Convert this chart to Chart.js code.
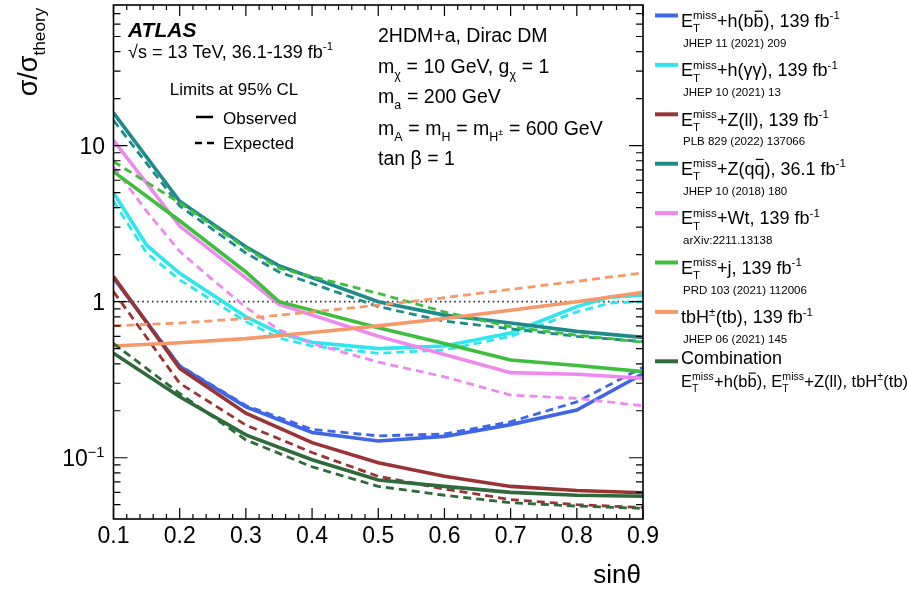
<!DOCTYPE html>
<html>
<head>
<meta charset="utf-8">
<script src="https://cdn.jsdelivr.net/npm/chart.js@4.4.1/dist/chart.umd.min.js"></script>
<style>
  html, body { margin: 0; padding: 0; background: #ffffff; }
  canvas { display: block; }
</style>
</head>
<body>
<canvas id="limits" width="908" height="591"></canvas>
<script>
const FONT = '"Liberation Sans", Arial, Helvetica, sans-serif';

// ---- sin(theta) grids ----
const sinGrid = [0.1, 0.2, 0.3, 0.4, 0.5, 0.6, 0.7, 0.8, 0.9];
const sinGridYY = [0.1, 0.15, 0.2, 0.3, 0.35, 0.4, 0.5, 0.6, 0.7, 0.8, 0.85, 0.9];
const sinGridQQ = [0.1, 0.2, 0.3, 0.35, 0.5, 0.6, 0.7, 0.8, 0.9];
const sinGridWtObs = [0.1, 0.2, 0.3, 0.35, 0.5, 0.7, 0.8, 0.9];
const sinGridWtExp = [0.1, 0.15, 0.2, 0.25, 0.3, 0.35, 0.4, 0.5, 0.6, 0.7, 0.8, 0.9];
const sinGridJ = [0.1, 0.2, 0.3, 0.35, 0.5, 0.6, 0.7, 0.8, 0.9];

// ---- sigma / sigma_theory limits ----
const hbbObs = [1.42, 0.385, 0.212, 0.145, 0.128, 0.137, 0.163, 0.202, 0.345];
const hbbExp = [1.42, 0.39, 0.216, 0.152, 0.138, 0.142, 0.17, 0.228, 0.38];

const hyyObs = [5.0, 2.3, 1.52, 0.80, 0.63, 0.55, 0.50, 0.52, 0.63, 0.93, 1.07, 1.10];
const hyyExp = [4.4, 2.05, 1.38, 0.745, 0.585, 0.52, 0.467, 0.49, 0.60, 0.86, 0.98, 1.0];

const zllObs = [1.45, 0.374, 0.193, 0.125, 0.093, 0.076, 0.0655, 0.0617, 0.0596];
const zllExp = [1.16, 0.30, 0.162, 0.108, 0.076, 0.063, 0.054, 0.050, 0.048];

const zqqObs = [16.2, 4.4, 2.25, 1.70, 1.0, 0.82, 0.73, 0.645, 0.59];
const zqqExp = [14.5, 4.1, 2.05, 1.55, 0.93, 0.75, 0.67, 0.60, 0.555];

const wtObs = [10.8, 3.05, 1.42, 0.96, 0.60, 0.351, 0.343, 0.323];
const wtExp = [7.3, 3.8, 2.1, 1.38, 0.92, 0.66, 0.54, 0.41, 0.33, 0.252, 0.24, 0.215];

const jObs = [6.8, 3.3, 1.55, 1.0, 0.68, 0.54, 0.423, 0.39, 0.356];
const jExp = [7.9, 4.3, 2.2, 1.64, 1.13, 0.86, 0.69, 0.61, 0.55];

const tbhObs = [0.52, 0.545, 0.58, 0.635, 0.70, 0.78, 0.88, 1.0, 1.15];
const tbhExp = [0.70, 0.73, 0.78, 0.86, 0.95, 1.06, 1.20, 1.35, 1.53];

const combObs = [0.467, 0.246, 0.140, 0.097, 0.072, 0.0655, 0.060, 0.0575, 0.0567];
const combExp = [0.54, 0.258, 0.130, 0.0875, 0.0655, 0.0575, 0.0515, 0.049, 0.0474];

// ---- axis ticks ----
const xMajorTicks = [0.1, 0.2, 0.3, 0.4, 0.5, 0.6, 0.7, 0.8, 0.9];
const xTickLabels = ['0.1', '0.2', '0.3', '0.4', '0.5', '0.6', '0.7', '0.8', '0.9'];
const yMajorTicks = [0.1, 1, 10];
const yTickLabels = [['10', {sup: '\u22121'}], ['1'], ['10']];
const yMinorTicks = [0.05, 0.06, 0.07, 0.08, 0.09, 0.2, 0.3, 0.4, 0.5, 0.6, 0.7, 0.8, 0.9,
                     2, 3, 4, 5, 6, 7, 8, 9, 20, 30, 40, 50, 60, 70];

const COLORS = {
  hbb: '#3f66e6',
  hyy: '#2ee6ee',
  zll: '#9a3434',
  zqq: '#1e8a8a',
  wt:  '#ee8aee',
  j:   '#3dbf3d',
  tbh: '#f5996a',
  comb:'#2f6a3a'
};

// ---- legend entries ----
const legendEntries = [
  { color: COLORS.hbb, text: [{sub: 'T', sup: 'miss', base: 'E'}, '+h(b', {bar: 'b'}, '), 139 fb', {sup: '-1'}], ref: 'JHEP 11 (2021) 209' },
  { color: COLORS.hyy, text: [{sub: 'T', sup: 'miss', base: 'E'}, '+h(\u03b3\u03b3), 139 fb', {sup: '-1'}], ref: 'JHEP 10 (2021) 13' },
  { color: COLORS.zll, text: [{sub: 'T', sup: 'miss', base: 'E'}, '+Z(ll), 139 fb', {sup: '-1'}], ref: 'PLB 829 (2022) 137066' },
  { color: COLORS.zqq, text: [{sub: 'T', sup: 'miss', base: 'E'}, '+Z(q', {bar: 'q'}, '), 36.1 fb', {sup: '-1'}], ref: 'JHEP 10 (2018) 180' },
  { color: COLORS.wt,  text: [{sub: 'T', sup: 'miss', base: 'E'}, '+Wt, 139 fb', {sup: '-1'}], ref: 'arXiv:2211.13138' },
  { color: COLORS.j,   text: [{sub: 'T', sup: 'miss', base: 'E'}, '+j, 139 fb', {sup: '-1'}], ref: 'PRD 103 (2021) 112006' },
  { color: COLORS.tbh, text: ['tbH', {sup: '\u00b1'}, '(tb), 139 fb', {sup: '-1'}], ref: 'JHEP 06 (2021) 145' },
  { color: COLORS.comb, text: ['Combination'], combo: [{sub: 'T', sup: 'miss', base: 'E'}, '+h(b', {bar: 'b'}, '), ',
      {sub: 'T', sup: 'miss', base: 'E'}, '+Z(ll), tbH', {sup: '\u00b1'}, '(tb)'] }
];

function makeSeries(xs, ys, color, dashed, order) {
  return {
    data: xs.map((x, i) => ({ x: x, y: ys[i] })),
    borderColor: color,
    backgroundColor: color,
    borderWidth: dashed ? 2.8 : 3.6,
    borderDash: dashed ? [8, 5] : [],
    pointRadius: 0,
    pointHoverRadius: 0,
    tension: 0,
    fill: false,
    order: order
  };
}

// later entries are painted on top (lower order = on top)
const seriesList = [
  [sinGrid, hbbExp, COLORS.hbb, true], [sinGrid, hbbObs, COLORS.hbb, false],
  [sinGridYY, hyyExp, COLORS.hyy, true], [sinGridYY, hyyObs, COLORS.hyy, false],
  [sinGrid, zllExp, COLORS.zll, true], [sinGrid, zllObs, COLORS.zll, false],
  [sinGridQQ, zqqExp, COLORS.zqq, true], [sinGridQQ, zqqObs, COLORS.zqq, false],
  [sinGridWtExp, wtExp, COLORS.wt, true], [sinGridWtObs, wtObs, COLORS.wt, false],
  [sinGridJ, jExp, COLORS.j, true], [sinGridJ, jObs, COLORS.j, false],
  [sinGrid, tbhExp, COLORS.tbh, true], [sinGrid, tbhObs, COLORS.tbh, false],
  [sinGrid, combExp, COLORS.comb, true], [sinGrid, combObs, COLORS.comb, false]
];
const datasets = seriesList.map((s, k) => makeSeries(s[0], s[1], s[2], s[3], 100 - k));

// ---- rich text (sub/superscripts, overbars) ----
function richText(ctx, x, y, parts, size, draw) {
  const small = size * 0.64;
  let cx = x;
  for (const p of parts) {
    if (typeof p === 'string') {
      ctx.font = `${size}px ${FONT}`;
      if (draw) ctx.fillText(p, cx, y);
      cx += ctx.measureText(p).width;
      continue;
    }
    if (p.bar) {
      ctx.font = `${size}px ${FONT}`;
      const w = ctx.measureText(p.bar).width;
      if (draw) {
        ctx.fillText(p.bar, cx, y);
        ctx.save();
        ctx.lineWidth = Math.max(1, size * 0.07);
        ctx.strokeStyle = ctx.fillStyle;
        ctx.beginPath();
        ctx.moveTo(cx + w * 0.12, y - size * 0.86);
        ctx.lineTo(cx + w * 0.9, y - size * 0.86);
        ctx.stroke();
        ctx.restore();
      }
      cx += w;
      continue;
    }
    if (p.base) {
      ctx.font = `${size}px ${FONT}`;
      if (draw) ctx.fillText(p.base, cx, y);
      cx += ctx.measureText(p.base).width;
    }
    let w = 0;
    ctx.font = `${small}px ${FONT}`;
    if (p.sub) {
      if (draw) ctx.fillText(p.sub, cx, y + size * 0.3);
      let sw = ctx.measureText(p.sub).width;
      if (p.subsup) {
        const tiny = small * 0.7;
        ctx.font = `${tiny}px ${FONT}`;
        if (draw) ctx.fillText(p.subsup, cx + sw, y + size * 0.3 - small * 0.45);
        sw += ctx.measureText(p.subsup).width;
        ctx.font = `${small}px ${FONT}`;
      }
      w = Math.max(w, sw);
    }
    if (p.sup) {
      if (draw) ctx.fillText(p.sup, cx, y - size * 0.42);
      w = Math.max(w, ctx.measureText(p.sup).width);
    }
    cx += w + size * 0.02;
  }
  return cx - x;
}

const decorations = {
  id: 'decorations',
  beforeDatasetsDraw(chart) {
    const ctx = chart.ctx;
    const xs = chart.scales.x, ys = chart.scales.y;
    // reference line at sigma/sigma_theory = 1
    ctx.save();
    ctx.strokeStyle = '#333';
    ctx.lineWidth = 1.6;
    ctx.setLineDash([1.6, 3.2]);
    ctx.beginPath();
    const y1 = ys.getPixelForValue(1);
    ctx.moveTo(xs.left, y1);
    ctx.lineTo(xs.right, y1);
    ctx.stroke();
    ctx.restore();
  },
  afterDraw(chart) {
    const ctx = chart.ctx;
    const xs = chart.scales.x, ys = chart.scales.y;
    const a = chart.chartArea;
    ctx.save();
    ctx.fillStyle = '#000';
    ctx.strokeStyle = '#000';

    // frame
    ctx.lineWidth = 1.6;
    ctx.strokeRect(a.left, a.top, a.right - a.left, a.bottom - a.top);

    // x ticks (bottom and top, pointing inwards)
    ctx.lineWidth = 1.2;
    ctx.beginPath();
    for (let i = 0; i <= 40; i++) {
      const v = 0.1 + i * 0.02;
      const px = xs.getPixelForValue(v);
      const len = (i % 5 === 0) ? 11 : 5;
      ctx.moveTo(px, a.bottom); ctx.lineTo(px, a.bottom - len);
      ctx.moveTo(px, a.top); ctx.lineTo(px, a.top + len);
    }
    // y ticks (left and right)
    for (const v of yMajorTicks) {
      const py = ys.getPixelForValue(v);
      ctx.moveTo(a.left, py); ctx.lineTo(a.left + 14, py);
      ctx.moveTo(a.right, py); ctx.lineTo(a.right - 14, py);
    }
    for (const v of yMinorTicks) {
      const py = ys.getPixelForValue(v);
      ctx.moveTo(a.left, py); ctx.lineTo(a.left + 7, py);
      ctx.moveTo(a.right, py); ctx.lineTo(a.right - 7, py);
    }
    ctx.stroke();

    // x tick labels
    ctx.font = `23px ${FONT}`;
    ctx.textAlign = 'center';
    ctx.textBaseline = 'alphabetic';
    xMajorTicks.forEach((v, i) => {
      ctx.fillText(xTickLabels[i], xs.getPixelForValue(v), 543);
    });

    // y tick labels
    ctx.textAlign = 'left';
    yMajorTicks.forEach((v, i) => {
      const py = ys.getPixelForValue(v) + 8.5;
      const w = richText(ctx, 0, 0, yTickLabels[i], 23, false);
      richText(ctx, 105 - w, py, yTickLabels[i], 23, true);
    });

    // axis titles
    ctx.font = `26px ${FONT}`;
    ctx.textAlign = 'right';
    ctx.fillText('sin\u03b8', 641, 583);

    ctx.save();
    ctx.translate(37, 7);
    ctx.rotate(-Math.PI / 2);
    const ttlParts = ['\u03c3/\u03c3', {sub: 'theory'}];
    ctx.textAlign = 'left';
    const tw = richText(ctx, 0, 0, ttlParts, 27, false);
    richText(ctx, -tw, 0, ttlParts, 27, true);
    ctx.restore();

    // experiment label
    ctx.textAlign = 'left';
    ctx.font = `italic bold 21px ${FONT}`;
    ctx.fillText('ATLAS', 128, 37);
    richText(ctx, 128, 58, ['\u221as = 13 TeV, 36.1-139 fb', {sup: '-1'}], 18, true);

    // observed / expected key
    ctx.font = `17px ${FONT}`;
    ctx.textAlign = 'center';
    ctx.fillText('Limits at 95% CL', 234, 95);
    ctx.textAlign = 'left';
    ctx.fillText('Observed', 223, 123.5);
    ctx.fillText('Expected', 223, 148.5);
    ctx.lineWidth = 2.4;
    ctx.beginPath();
    ctx.moveTo(196, 117); ctx.lineTo(213, 117);
    ctx.moveTo(195, 143); ctx.lineTo(202, 143);
    ctx.moveTo(207, 143); ctx.lineTo(214, 143);
    ctx.stroke();

    // model parameters
    const mx = 378, ms = 19.5;
    richText(ctx, mx, 41.7, ['2HDM+a, Dirac DM'], ms, true);
    richText(ctx, mx, 73.3, ['m', {sub: '\u03c7'}, ' = 10 GeV, g', {sub: '\u03c7'}, ' = 1'], ms, true);
    richText(ctx, mx, 103.3, ['m', {sub: 'a'}, ' = 200 GeV'], ms, true);
    richText(ctx, mx, 135, ['m', {sub: 'A'}, ' = m', {sub: 'H'}, ' = m', {sub: 'H', subsup: '\u00b1'}, ' = 600 GeV'], ms, true);
    richText(ctx, mx, 165, ['tan \u03b2 = 1'], ms, true);

    // legend
    legendEntries.forEach((e, i) => {
      const ly = 15.5 + i * 49.4;
      ctx.strokeStyle = e.color;
      ctx.lineWidth = 4;
      ctx.beginPath();
      ctx.moveTo(655, ly); ctx.lineTo(678, ly);
      ctx.stroke();
      ctx.fillStyle = '#000';
      if (e.combo) {
        richText(ctx, 681, ly + 3, e.text, 18, true);
        richText(ctx, 681, ly + 26, e.combo, 16.5, true);
      } else {
        richText(ctx, 681, ly + 11.2, e.text, 18, true);
        ctx.font = `11.5px ${FONT}`;
        ctx.fillText(e.ref, 683, ly + 31);
      }
    });
    ctx.restore();
  }
};

new Chart(document.getElementById('limits'), {
  type: 'line',
  data: { datasets: datasets },
  options: {
    responsive: false,
    animation: false,
    devicePixelRatio: 1,
    layout: { padding: { left: 113.5, right: 265, top: 5, bottom: 72 } },
    plugins: { legend: { display: false }, tooltip: { enabled: false } },
    events: [],
    scales: {
      x: { type: 'linear', min: 0.1, max: 0.9, display: false },
      y: { type: 'logarithmic', min: 0.0405, max: 79.6, display: false }
    }
  },
  plugins: [decorations]
});
</script>
</body>
</html>
